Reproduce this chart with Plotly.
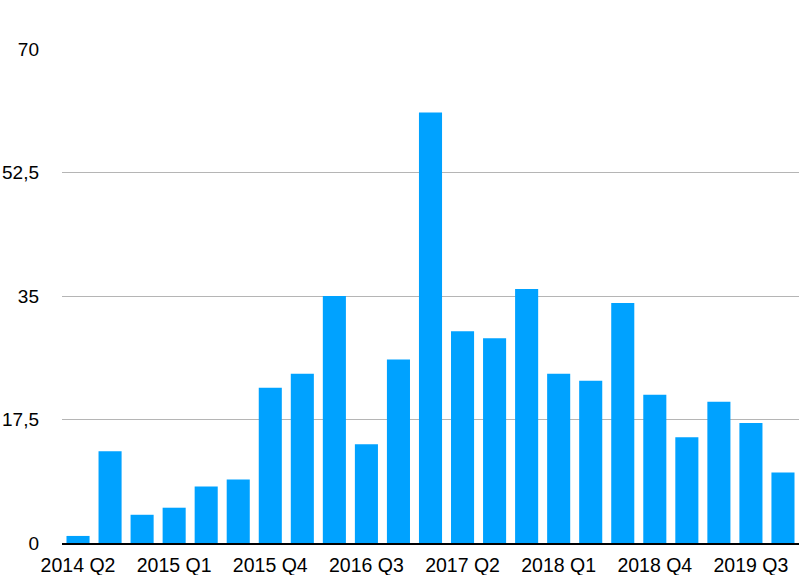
import plotly.graph_objects as go

quarters = [
    "2014 Q2", "2014 Q3", "2014 Q4",
    "2015 Q1", "2015 Q2", "2015 Q3", "2015 Q4",
    "2016 Q1", "2016 Q2", "2016 Q3", "2016 Q4",
    "2017 Q1", "2017 Q2", "2017 Q3", "2017 Q4",
    "2018 Q1", "2018 Q2", "2018 Q3", "2018 Q4",
    "2019 Q1", "2019 Q2", "2019 Q3", "2019 Q4",
]
values = [1, 13, 4, 5, 8, 9, 22, 24, 35, 14, 26, 61, 30, 29, 36, 24, 23, 34, 21, 15, 20, 17, 10]
x_tick_labels = ["2014 Q2", "2015 Q1", "2015 Q4", "2016 Q3", "2017 Q2", "2018 Q1", "2018 Q4", "2019 Q3"]
y_ticks = [0, 17.5, 35, 52.5, 70]

fig = go.Figure(go.Bar(x=quarters, y=values, marker=dict(color="#00A2FF", line=dict(width=0))))

fig.update_layout(
    width=802, height=575,
    margin=dict(l=62, r=3, t=49, b=32),
    paper_bgcolor="white", plot_bgcolor="white",
    bargap=0.28,
    separators=",.",
    showlegend=False,
    font=dict(family="Liberation Sans, Arial, Helvetica, sans-serif", size=19, color="black"),
)
fig.update_xaxes(
    type="category", automargin=False,
    tickmode="array", tickvals=x_tick_labels, ticktext=x_tick_labels,
    showgrid=False, ticks="", ticklabelstandoff=4,
    showline=True, linecolor="black", linewidth=2,
    tickfont=dict(size=19.5),
)
fig.update_yaxes(
    range=[0, 70], tickmode="array", tickvals=y_ticks, automargin=False,
    showgrid=True, gridcolor="#b5b5b5", gridwidth=1,
    zeroline=False, showline=False, ticks="",
    ticklabelstandoff=22,
    tickfont=dict(size=19),
)

fig.write_html("out.html")
